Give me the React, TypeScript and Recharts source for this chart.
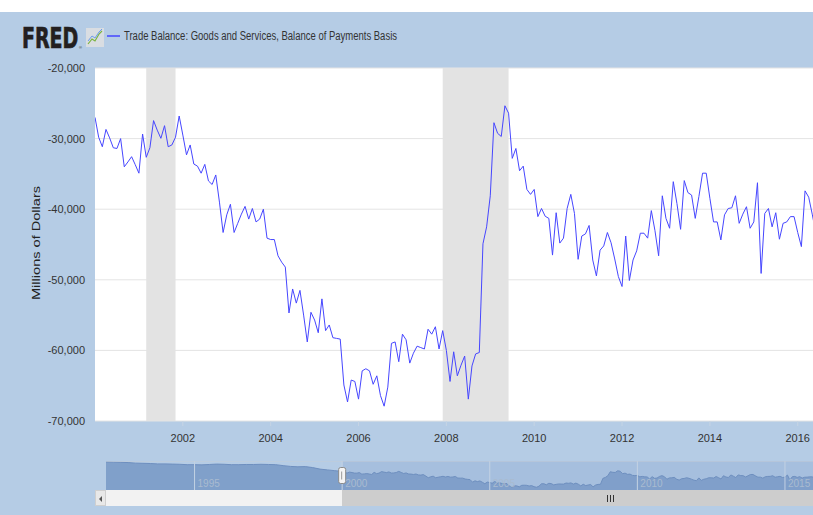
import { LineChart, Line, XAxis, YAxis, CartesianGrid, ReferenceArea, AreaChart, Area, ReferenceLine, ReferenceDot } from 'recharts';

// Trade balance, millions of dollars, monthly
const bal2000 = [-27000, -29800, -31150, -28700, -29900, -31300, -31400, -30000, -34000, -33300, -32560, -33700];
const bal2001 = [-34900, -29350, -32650, -31300, -27450, -28800, -29960, -28170, -31150, -30900, -29800, -26800];
const bal2002 = [-29500, -32300, -30900, -33600, -33900, -34900, -33650, -36000, -36500, -35150, -39000, -43300];
const bal2003 = [-40800, -39300, -43300, -42000, -40700, -39600, -41400, -39900, -41800, -41400, -40000, -44100];
const bal2004 = [-44300, -44300, -46600, -47500, -48200, -54700, -51300, -53300, -51500, -55000, -58800, -54600];
const bal2005 = [-55700, -57500, -52700, -57200, -56400, -58200, -58300, -58400, -64900, -67300, -64200, -64400];
const bal2006 = [-66900, -62900, -62600, -62900, -64800, -63600, -66400, -67900, -65200, -59000, -58800, -61600];
const bal2007 = [-57700, -58500, -61800, -60400, -59400, -59600, -59800, -57000, -57700, -56650, -59800, -57200];
const bal2008 = [-60000, -64400, -60200, -63600, -62100, -60800, -66900, -62200, -60500, -60300, -44900, -42500];
const bal2009 = [-38100, -27750, -29250, -29700, -25350, -26400, -32800, -31400, -34550, -33900, -37200, -37900];
const bal2010 = [-37200, -41050, -39900, -41000, -41300, -46500, -40500, -44800, -44100, -39900, -37900, -40600];
const bal2011 = [-47100, -43800, -43500, -42300, -47200, -49450, -45800, -45200, -43300, -44750, -47050, -49550];
const bal2012 = [-50950, -43800, -50100, -47200, -45900, -43400, -43400, -44100, -40200, -43050, -46600, -38100];
const bal2013 = [-41300, -42700, -36100, -39200, -42850, -35950, -37650, -38000, -41300, -38200, -34900, -34900];
const bal2014 = [-38450, -41800, -41800, -44350, -40800, -39900, -39800, -38100, -42000, -40700, -39650, -42700];
const bal2015 = [-41800, -36250, -49100, -40600, -39900, -42500, -40500, -44250, -42000, -41800, -41050, -41050];
const bal2016 = [-43300, -45300, -37400, -38300, -40800, -43500];

const tradeBalance = [
  ...bal2000, ...bal2001, ...bal2002, ...bal2003, ...bal2004, ...bal2005, ...bal2006, ...bal2007, ...bal2008,
  ...bal2009, ...bal2010, ...bal2011, ...bal2012, ...bal2013, ...bal2014, ...bal2015, ...bal2016,
];

// recessions as months since Jan 2000: Mar-Nov 2001, Dec 2007-Jun 2009
const recessions = [[14, 22], [95, 113]];
const yearTicks = [2002, 2004, 2006, 2008, 2010, 2012, 2014, 2016];
const valueTicks = [-70000, -60000, -50000, -40000, -30000, -20000];

// navigator: quarterly 1992-1999, then the monthly series
const navEarly = [
  -2500, -3000, -3500, -4000, -5500, -6000, -6500, -7500,
  -7500, -8000, -8500, -9500, -9500, -10000, -9000, -8000,
  -8500, -9500, -9500, -9000, -9000, -8500, -9000, -9500,
  -12000, -14000, -15000, -14500, -17000, -21000, -23000, -25000,
];
const navYears = [1995, 2000, 2005, 2010, 2015];

const mainData = tradeBalance.map((v, i) => ({ m: i, v }));
const navData = [
  ...navEarly.map((v, i) => ({ m: i * 3, v })),
  ...tradeBalance.map((v, i) => ({ m: 96 + i, v })),
];

const font = '"Liberation Sans", Arial, sans-serif';
const lineColor = '#4646ff';

const Handle = (props: any) => {
  const { cx, cy } = props;
  return (
    <g>
      <rect x={cx - 3.5} y={cy - 8} width={7} height={16} rx={2} fill="#f4f4f4" stroke="#8a8a8a" />
      <line x1={cx - 0.5} x2={cx - 0.5} y1={cy - 4} y2={cy + 4} stroke="#999" />
    </g>
  );
};

export default function App() {
  return (
    <div style={{ position: 'absolute', left: 0, top: 0, width: 813, height: 515, overflow: 'hidden', background: '#fff', fontFamily: font }}>
      <div style={{ position: 'absolute', left: 0, top: 12, width: 813, height: 503, background: '#b5cce5' }} />

      <div style={{ position: 'absolute', left: 0, top: 0 }}>
        <LineChart width={890} height={455} data={mainData} margin={{ top: 68, right: 63, bottom: 4, left: 0 }}>
          <CartesianGrid vertical={false} fill="#fff" stroke="#e4e4e4" />
          {recessions.map(([a, b]) => (
            <ReferenceArea key={a} x1={a} x2={b} fill="#e3e3e3" fillOpacity={1} stroke="none" />
          ))}
          <XAxis
            dataKey="m"
            type="number"
            domain={[0, 200]}
            allowDataOverflow
            ticks={yearTicks.map((y) => (y - 2000) * 12)}
            tickFormatter={(m: number) => String(2000 + m / 12)}
            height={30}
            tickSize={5}
            tickMargin={8}
            axisLine={false}
            tickLine={{ stroke: '#c6d4e4' }}
            tick={{ fill: '#333', fontSize: 11 }}
          />
          <YAxis
            type="number"
            domain={[-70000, -20000]}
            ticks={valueTicks}
            width={95}
            tickSize={0}
            tickMargin={10}
            axisLine={false}
            tickLine={false}
            tick={{ fill: '#333', fontSize: 11 }}
            tickFormatter={(v: number) => v.toLocaleString('en-US')}
          />
          <Line type="linear" dataKey="v" stroke={lineColor} strokeWidth={1} dot={false} isAnimationActive={false} />
        </LineChart>
      </div>

      <div style={{ position: 'absolute', left: 0, top: 461 }}>
        <AreaChart width={890} height={29} data={navData} margin={{ top: 0, right: 46, bottom: 0, left: 106 }}>
          <XAxis dataKey="m" type="number" domain={[0, 300]} hide />
          <YAxis type="number" domain={[-75000, 0]} hide />
          <ReferenceArea x1={96} x2={300} fill="#6685c2" fillOpacity={0.18} stroke="none" />
          {navYears.map((y) => (
            <ReferenceLine
              key={y}
              x={(y - 1992) * 12}
              stroke="#c3d2e3"
              label={{ value: String(y), position: 'insideBottomLeft', fill: '#a9bbd0', fontSize: 10, offset: 3 }}
            />
          ))}
          <Area
            type="linear"
            dataKey="v"
            baseValue="dataMin"
            stroke="#6e8fbf"
            strokeWidth={1}
            fill="#7d9dc8"
            fillOpacity={0.95}
            dot={false}
            isAnimationActive={false}
          />
          <ReferenceLine y={0} stroke="#c4ccd6" />
          <ReferenceDot x={96} y={-37500} shape={Handle} />
        </AreaChart>
      </div>

      {/* scrollbar */}
      <div style={{ position: 'absolute', left: 95, top: 490, width: 11, height: 16, background: '#e8e8e8', boxSizing: 'border-box', border: '1px solid #cfcfcf' }}>
        <div style={{ position: 'absolute', left: 3, top: 5, width: 0, height: 0, borderTop: '3px solid transparent', borderBottom: '3px solid transparent', borderRight: '3px solid #555' }} />
      </div>
      <div style={{ position: 'absolute', left: 106, top: 490, width: 236, height: 16, background: '#f2f2f2' }} />
      <div style={{ position: 'absolute', left: 342, top: 490, width: 560, height: 16, background: '#cdcdcd' }}>
        <div style={{ position: 'absolute', left: 265, top: 5, width: 1, height: 7, background: '#333' }} />
        <div style={{ position: 'absolute', left: 268, top: 5, width: 1, height: 7, background: '#333' }} />
        <div style={{ position: 'absolute', left: 271, top: 5, width: 1, height: 7, background: '#333' }} />
      </div>

      <svg width={813} height={515} style={{ position: 'absolute', left: 0, top: 0, pointerEvents: 'none' }}>
        <g transform="translate(22 48) scale(1 1.45)">
          <text x={0} y={0} fontFamily='"DejaVu Sans", Arial' fontWeight={700} fontSize={19} fill="#231f20" stroke="#231f20" strokeWidth={0.5}>FRED</text>
        </g>
        <text x={79} y={49} fontSize={4} fill="#231f20">®</text>
        <rect x={86} y={28} width={18} height={19} fill="#d9dde2" />
        <polyline points="88,44 92,39 95,41 99,34 102,31" fill="none" stroke="#7cb342" strokeWidth={1.2} />
        <polyline points="88,41 92,36 95,38 99,32 102,29" fill="none" stroke="#6d9eeb" strokeWidth={1} />
        <line x1={107} x2={120} y1={36} y2={36} stroke={lineColor} strokeWidth={1.5} />
        <text x={124} y={40} fontSize={12.5} fill="#333" textLength={273} lengthAdjust="spacingAndGlyphs">Trade Balance: Goods and Services, Balance of Payments Basis</text>
        <text x={40} y={243} transform="rotate(-90 40 243)" textAnchor="middle" fontSize={11.5} fill="#222" textLength={114} lengthAdjust="spacingAndGlyphs">Millions of Dollars</text>
      </svg>
    </div>
  );
}
